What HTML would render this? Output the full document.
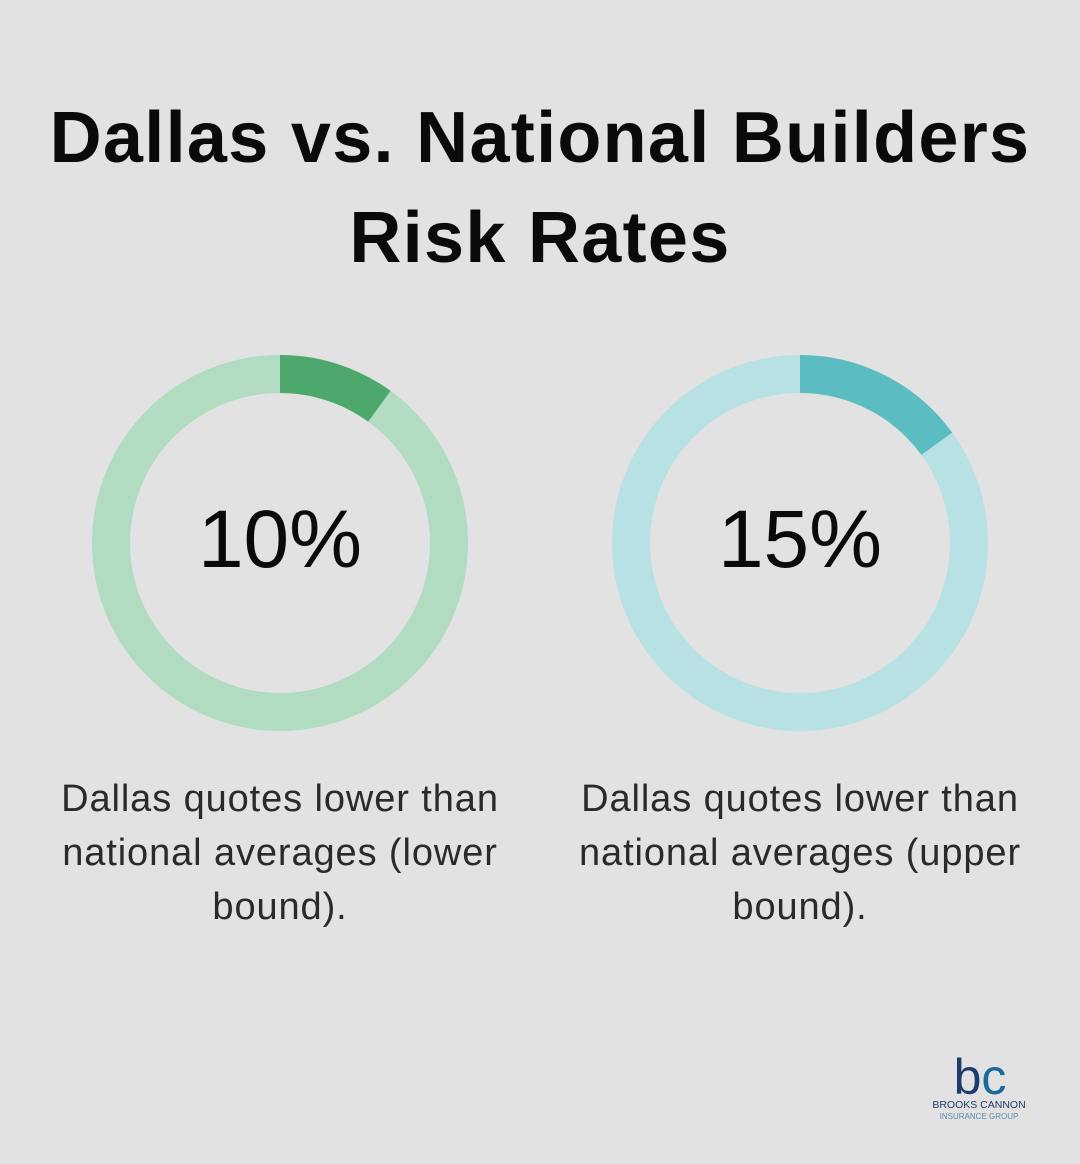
<!DOCTYPE html>
<html><head><meta charset="utf-8"><style>
html,body{margin:0;padding:0}
body{width:1080px;height:1164px;background:#e1e2e1;font-family:"Liberation Sans",sans-serif;position:relative;overflow:hidden}
.t{position:absolute;left:-20px;width:1120px;text-align:center;font-weight:bold;font-size:72px;letter-spacing:1.3px;color:#0a0a0a;line-height:100px;top:88px}
.cap{position:absolute;width:500px;text-align:center;font-size:38px;letter-spacing:0.9px;line-height:54px;color:#2a2a2a;top:772px}
.pct{position:absolute;width:376px;text-align:center;font-size:82px;line-height:90px;top:495px;color:#0a0a0a}
</style></head><body>
<div class="t">Dallas vs. National Builders<br>Risk Rates</div>
<svg width="1080" height="1164" style="position:absolute;left:0;top:0">
<circle cx="280" cy="543" r="169" fill="none" stroke="#b1dcc1" stroke-width="38"/>
<circle cx="280" cy="543" r="169" fill="none" stroke="#4ca86d" stroke-width="38" stroke-dasharray="106.2 2000" transform="rotate(-90 280 543)"/>
<circle cx="800" cy="543" r="169" fill="none" stroke="#b8e1e3" stroke-width="38"/>
<circle cx="800" cy="543" r="169" fill="none" stroke="#5bbcc1" stroke-width="38" stroke-dasharray="159.3 2000" transform="rotate(-90 800 543)"/>
<text x="980" y="1094" text-anchor="middle" font-family="Liberation Sans" font-size="50" fill="#1d3c6e">b<tspan fill="#1a6a9e">c</tspan></text>
<text x="979" y="1108" text-anchor="middle" font-family="Liberation Sans" font-size="10.5" fill="#1d3c6e">BROOKS CANNON</text>
<text x="979" y="1119" text-anchor="middle" font-family="Liberation Sans" font-size="8" fill="#5a8ab0">INSURANCE GROUP</text>
</svg>
<div class="pct" style="left:92px">10%</div>
<div class="pct" style="left:612px">15%</div>
<div class="cap" style="left:30px">Dallas quotes lower than national averages (lower bound).</div>
<div class="cap" style="left:550px">Dallas quotes lower than national averages (upper bound).</div>
</body></html>
